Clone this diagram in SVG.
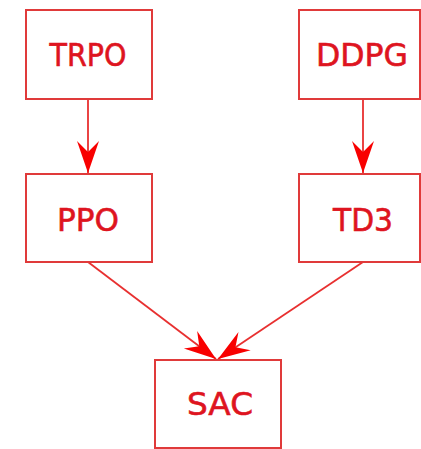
<svg xmlns="http://www.w3.org/2000/svg" width="421" height="449" viewBox="0 0 421 449">
  <style>
    .box { fill: #ffffff; stroke: #e03a3a; stroke-width: 2; }
    .label { font-family: "DejaVu Sans", sans-serif; font-size: 32px; fill: #de1420; stroke: #de1420; stroke-width: 0.6; text-anchor: middle; }
    .edge { stroke: #e83030; stroke-width: 1.8; fill: none; }
  </style>
  <defs>
    <marker id="vee" markerUnits="userSpaceOnUse" markerWidth="34" markerHeight="26" refX="32" refY="12" orient="auto">
      <path d="M0,1 L32,12 L0,23 L11,12 Z" fill="#f80000"/>
    </marker>
  </defs>
  <rect width="421" height="449" fill="#ffffff"/>
  <g id="connectors">
    <line class="edge" x1="88" y1="99" x2="88" y2="173" marker-end="url(#vee)"/>
    <line class="edge" x1="363" y1="99" x2="363" y2="173" marker-end="url(#vee)"/>
    <line class="edge" x1="88" y1="262" x2="216" y2="359" marker-end="url(#vee)"/>
    <line class="edge" x1="363" y1="262" x2="218" y2="359" marker-end="url(#vee)"/>
  </g>
  <g id="trpo">
    <rect class="box" x="26" y="10" width="126" height="89"/>
    <text class="label" x="88" y="66" textLength="77" lengthAdjust="spacingAndGlyphs">TRPO</text>
  </g>
  <g id="ddpg">
    <rect class="box" x="299" y="10" width="121" height="89"/>
    <text class="label" x="362" y="66" textLength="92" lengthAdjust="spacingAndGlyphs">DDPG</text>
  </g>
  <g id="ppo">
    <rect class="box" x="26" y="174" width="126" height="88"/>
    <text class="label" x="88" y="231" textLength="62" lengthAdjust="spacingAndGlyphs">PPO</text>
  </g>
  <g id="td3">
    <rect class="box" x="299" y="174" width="121" height="88"/>
    <text class="label" x="363" y="231" textLength="60" lengthAdjust="spacingAndGlyphs">TD3</text>
  </g>
  <g id="sac">
    <rect class="box" x="155" y="360" width="126" height="88"/>
    <text class="label" x="220" y="415" textLength="66" lengthAdjust="spacingAndGlyphs">SAC</text>
  </g>
</svg>
